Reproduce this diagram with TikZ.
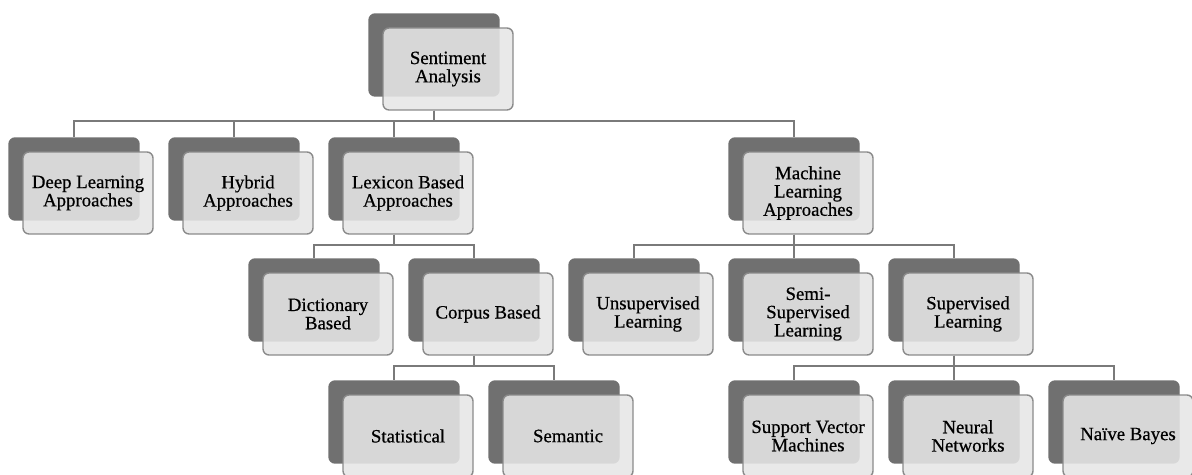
\documentclass[tikz,border=0pt]{standalone}
\usepackage{fontspec}
\setmainfont{Liberation Serif}
\newfontfamily\boxfont{Liberation Serif}[FakeBold=0.6]
\usetikzlibrary{shadows}

\definecolor{backgray}{HTML}{707070}
\definecolor{frontgray}{HTML}{E6E6E6}
\definecolor{edgegray}{HTML}{8A8A8A}
\definecolor{linkgray}{HTML}{7A7A7A}

\tikzset{
    catbox/.style={
        rectangle, rounded corners=0.12cm, draw=edgegray, line width=0.8pt,
        fill=frontgray, fill opacity=0.88, text opacity=1,
        minimum width=2.6cm, minimum height=1.64cm, align=center,
        font=\boxfont\fontsize{10.7}{10.4}\selectfont,
        copy shadow={shadow xshift=-0.28cm, shadow yshift=0.28cm,
            fill=backgray, draw=backgray, fill opacity=1}
    },
    link/.style={draw=linkgray, line width=1pt},
}

\begin{document}
\begin{tikzpicture}[x=0.02cm, y=-0.02cm]
    \useasboundingbox (0,0) rectangle (1192,475);

    % root
    \node[catbox] (sa) at (448,69) {Sentiment\\Analysis};

    % first level
    \node[catbox] (dl) at (88,193) {Deep Learning\\Approaches};
    \node[catbox] (hy) at (248,193) {Hybrid\\Approaches};
    \node[catbox] (lx) at (408,193) {Lexicon Based\\Approaches};
    \node[catbox] (ml) at (808,193) {Machine\\Learning\\Approaches};

    % second level
    \node[catbox] (di) at (328,314) {Dictionary\\Based};
    \node[catbox] (co) at (488,314) {Corpus Based};
    \node[catbox] (un) at (648,314) {Unsupervised\\Learning};
    \node[catbox] (ss) at (808,314) {Semi-\\Supervised\\Learning};
    \node[catbox] (su) at (968,314) {Supervised\\Learning};

    % third level
    \node[catbox] (st) at (408,436) {Statistical};
    \node[catbox] (se) at (568,436) {Semantic};
    \node[catbox] (sv) at (808,436) {Support Vector\\Machines};
    \node[catbox] (nn) at (968,436) {Neural\\Networks};
    \node[catbox] (nb) at (1128,436) {Naïve Bayes};

    % connectors
    \foreach \p/\c in {sa/dl, sa/hy, sa/lx, sa/ml, lx/di, lx/co,
                       ml/un, ml/ss, ml/su, co/st, co/se,
                       su/sv, su/nn, su/nb}
        \draw[link] ([xshift=-0.28cm]\p.south) -- ++(0,10)
            -| ([xshift=-0.28cm, yshift=0.28cm]\c.north);
\end{tikzpicture}
\end{document}
